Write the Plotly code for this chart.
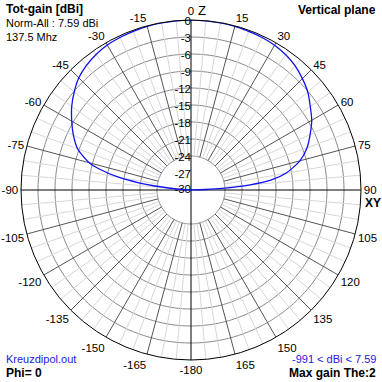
import plotly.graph_objects as go

# ---- data ----
theta_deg = [-90, -89, -88, -86, -84, -82, -80, -77, -75, -70, -65, -60, -55, -50,
             -45, -40, -35, -30, -25, -20, -15, -10, -5, 0, 5, 10, 15, 20, 25, 30,
             35, 40, 45, 50, 55, 60, 65, 70, 75, 80, 83, 85, 87, 88, 89, 90]
gain_db = [-30, -30, -29.5, -27.5, -24.5, -20.5, -17, -13.3, -11.4, -8.7, -7.1, -5.7, -4.3, -3.1,
           -2.0, -1.3, -0.8, -0.45, -0.3, -0.2, -0.1, -0.05, -0.02, 0, -0.02, -0.05, -0.1, -0.2, -0.3, -0.5,
           -0.85, -1.4, -2.2, -3.1, -4.3, -5.4, -6.8, -8.2, -10.1, -13.0, -15.8, -19.5, -24.5, -27.5, -29.5, -30]

radial_ticks = [0, -3, -6, -9, -12, -15, -18, -21, -24, -27, -30]
ring_levels = [-3, -6, -9, -12, -15, -18, -21, -24]
angle_ticks = list(range(0, 360, 15))
angle_labels = [str(a if a <= 165 else a - 360) for a in angle_ticks]

W = H = 382
FONT = "Liberation Sans, Arial, sans-serif"

fig = go.Figure()

# rings
circ = list(range(0, 361, 2))
for lv in ring_levels:
    fig.add_trace(go.Scatterpolar(theta=circ, r=[lv] * len(circ), mode="lines",
                                  line=dict(color="#8a8a8a", width=1), hoverinfo="skip", showlegend=False))
# minor radials every 5 deg
for a in range(0, 360, 5):
    if a % 15 == 0:
        continue
    fig.add_trace(go.Scatterpolar(theta=[a, a], r=[-24, 0], mode="lines",
                                  line=dict(color="#d6d6d6", width=1), hoverinfo="skip", showlegend=False))
# major radials every 15 deg
for a in angle_ticks:
    if a % 90 == 0:
        continue
    fig.add_trace(go.Scatterpolar(theta=[a, a], r=[-24, 0], mode="lines",
                                  line=dict(color="#555555", width=1), hoverinfo="skip", showlegend=False))
# main axes
for a in [0, 90, 180, 270]:
    fig.add_trace(go.Scatterpolar(theta=[a, a], r=[-30, 0], mode="lines",
                                  line=dict(color="#000000", width=1), hoverinfo="skip", showlegend=False))

# radial labels
fig.add_trace(go.Scatterpolar(theta=[0] * len(radial_ticks),
                              r=[v - 0.4 if v > -30 else v for v in radial_ticks],
                              mode="text", text=[str(v) for v in radial_ticks],
                              textposition="middle left",
                              textfont=dict(family=FONT, size=11.5, color="black"),
                              hoverinfo="skip", showlegend=False))

# pattern
fig.add_trace(go.Scatterpolar(theta=theta_deg, r=gain_db, mode="lines",
                              line=dict(color="#1010f0", width=1.3, shape="spline", smoothing=0.7),
                              showlegend=False))

fig.update_layout(
    width=W, height=H,
    margin=dict(l=0, r=0, t=0, b=0),
    paper_bgcolor="white",
    polar=dict(
        domain=dict(x=[21 / W, 361 / W], y=[(H - 360) / H, (H - 20) / H]),
        bgcolor="white",
        radialaxis=dict(range=[-30, 0], showgrid=False, showticklabels=False, ticks="",
                        showline=False),
        angularaxis=dict(rotation=90, direction="clockwise", tickmode="array",
                         tickvals=angle_ticks, ticktext=angle_labels, showgrid=False,
                         ticks="", showline=True, linecolor="black", linewidth=1,
                         tickfont=dict(family=FONT, size=11.5, color="black")),
    ),
    font=dict(family=FONT, color="black"),
)


def ann(text, x, y, xanchor="left", size=11, color="black", bold=False):
    if bold:
        text = "<b>" + text + "</b>"
    fig.add_annotation(text=text, x=x / W, y=1 - y / H, xref="paper", yref="paper",
                       xanchor=xanchor, yanchor="middle", showarrow=False,
                       font=dict(family=FONT, size=size, color=color))


ann("Tot-gain [dBi]", 4, 9, size=12, bold=True)
ann("Norm-All : 7.59 dBi", 4, 23)
ann("137.5 Mhz", 4, 37)
ann("Vertical plane", 378, 10, xanchor="right", size=12, bold=True)
ann("Z", 196, 11, size=13)
ann("XY", 363, 203, size=12, bold=True)
ann("Kreuzdipol.out", 4, 359, color="#2020e0")
ann("Phi= 0", 4, 373, size=12, bold=True)
ann("-991 < dBi < 7.59", 378, 359, xanchor="right", color="#2020e0")
ann("Max gain The:2", 378, 373, xanchor="right", size=12, bold=True)

fig.write_html("out.html")
